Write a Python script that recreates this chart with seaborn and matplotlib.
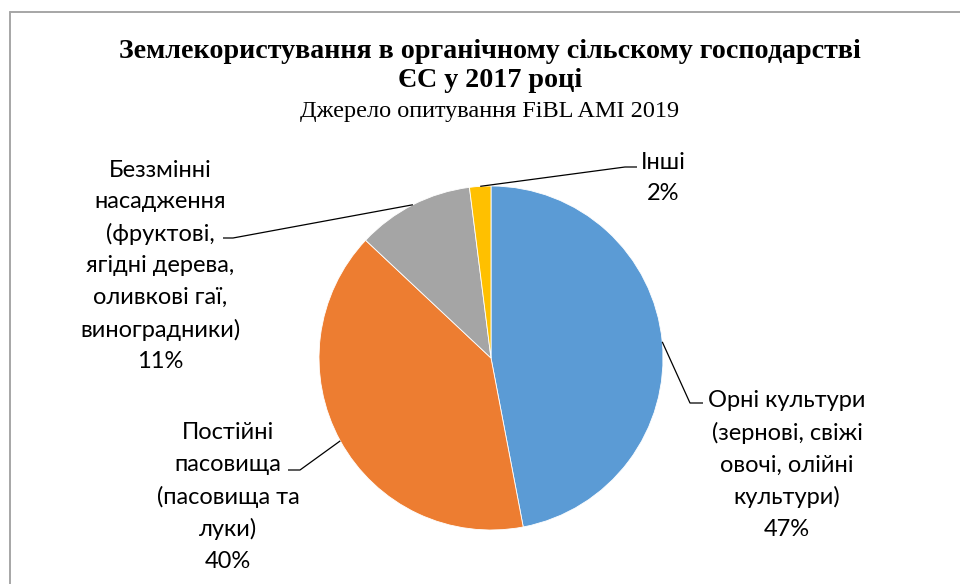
import numpy as np
import matplotlib
matplotlib.use("Agg")
import matplotlib.pyplot as plt
import seaborn as sns

# ---- data ----
categories = [
    "Орні культури\n(зернові, свіжі\nовочі, олійні\nкультури)",
    "Постійні\nпасовища\n(пасовища та\nлуки)",
    "Беззмінні\nнасадження\n(фруктові,\nягідні дерева,\nоливкові гаї,\nвиноградники)",
    "Інші",
]
shares = [47, 40, 11, 2]
colors = ["#5B9BD5", "#ED7D31", "#A5A5A5", "#FFC000"]
title_main = "Землекористування в органічному сільскому господарстві\nЄС у 2017 році"
subtitle = "Джерело опитування FiBL AMI 2019"

sns.set_theme(style="white")
plt.rcParams["font.family"] = ["Lato", "DejaVu Sans"]

W, H = 960, 584
fig = plt.figure(figsize=(W / 100, H / 100), dpi=100)
ax = fig.add_axes([0, 0, 1, 1])

cx, cy, R = 491, H - 358, 172
palette = sns.color_palette(colors)
wedges, _ = ax.pie(shares, colors=palette, startangle=90, counterclock=False,
                   center=(cx, cy), radius=R, frame=True,
                   wedgeprops=dict(linewidth=0.6, edgecolor="white"))
ax.set_xlim(0, W)
ax.set_ylim(0, H)
ax.set_aspect("equal")
ax.axis("off")

# label layout: (text center x, text block center y px from top, elbow x, elbow y, end x)
layout = [
    (787, 465, 690, 403, 703),
    (228, 497, 300, 470, 288),
    (160, 266, 233, 238, 223),
    (663, 178, 625, 167, 637),
]
for w, cat, sh, (tx, ty, ex, ey, hx) in zip(wedges, categories, shares, layout):
    ang = np.deg2rad((w.theta1 + w.theta2) / 2)
    sx, sy = cx + R * np.cos(ang), cy + R * np.sin(ang)
    ax.plot([sx, ex, hx], [sy, H - ey, H - ey], color="black", lw=0.9,
            solid_capstyle="butt", zorder=3)
    ax.text(tx, H - ty, f"{cat}\n{sh}%", ha="center", va="center", fontsize=17,
            color="#000000", linespacing=1.6, zorder=4)

fig.text(490 / W, 1 - 66 / H, title_main, ha="center", va="center",
         family=["Liberation Serif", "DejaVu Serif"], fontweight="bold",
         fontsize=20.2, linespacing=1.17, color="black")
fig.text(490 / W, 1 - 111 / H, subtitle, ha="center", va="center",
         family=["Liberation Serif", "DejaVu Serif"], fontsize=17.5, color="black")

# chart-area border (top and left visible)
ax.plot([10, W + 5], [H - 12, H - 12], color="#A6A6A6", lw=1.4, clip_on=False)
ax.plot([10, 10], [H - 12, -5], color="#A6A6A6", lw=1.4, clip_on=False)

fig.savefig("out.png", dpi=100, facecolor="white")
